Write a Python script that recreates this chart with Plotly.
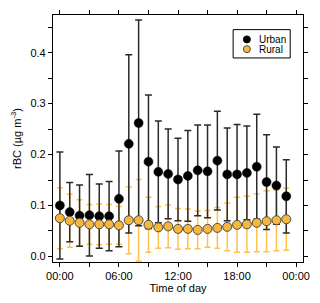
import plotly.graph_objects as go

hours = list(range(24))

urban = [0.100, 0.087, 0.080, 0.081, 0.079, 0.079, 0.113, 0.221, 0.262, 0.186,
         0.166, 0.162, 0.151, 0.158, 0.169, 0.167, 0.188, 0.161, 0.161, 0.164,
         0.176, 0.146, 0.139, 0.118]
urban_err = [0.105, 0.058, 0.060, 0.080, 0.063, 0.068, 0.094, 0.175, 0.202, 0.131,
             0.100, 0.088, 0.081, 0.089, 0.089, 0.091, 0.097, 0.091, 0.098, 0.092,
             0.103, 0.093, 0.076, 0.072]

rural = [0.075, 0.070, 0.066, 0.063, 0.063, 0.063, 0.061, 0.071, 0.071, 0.062,
         0.057, 0.059, 0.054, 0.054, 0.052, 0.054, 0.056, 0.058, 0.062, 0.063,
         0.066, 0.069, 0.071, 0.073]
rural_err = [0.060, 0.052, 0.045, 0.039, 0.040, 0.039, 0.037, 0.066, 0.080, 0.054,
             0.041, 0.042, 0.040, 0.039, 0.037, 0.036, 0.040, 0.047, 0.054, 0.055,
             0.057, 0.060, 0.060, 0.061]

x_tickvals = [0, 3, 6, 9, 12, 15, 18, 21, 24]
x_ticktext = ["00:00", "", "06:00", "", "12:00", "", "18:00", "", "00:00"]
y_tickvals = [0.0, 0.05, 0.1, 0.15, 0.2, 0.25, 0.3, 0.35, 0.4, 0.45]
y_ticktext = ["0.0", "", "0.1", "", "0.2", "", "0.3", "", "0.4", ""]

series_names = ["Urban", "Rural"]
URBAN_COLOR = "black"
RURAL_COLOR = "#F7B73A"

font_family = "Liberation Sans, Arial, Helvetica, sans-serif"

fig = go.Figure()
# error bars first (rural below urban), then markers (urban, then rural)
fig.add_trace(go.Scatter(
    x=hours, y=rural, mode="markers", showlegend=False, hoverinfo="skip",
    marker=dict(color="rgba(0,0,0,0)", size=1),
    error_y=dict(type="data", array=rural_err, symmetric=True,
                 color="#FFC04D", thickness=1.5, width=3),
))
fig.add_trace(go.Scatter(
    x=hours, y=urban, mode="markers", showlegend=False, hoverinfo="skip",
    marker=dict(color="rgba(0,0,0,0)", size=1),
    error_y=dict(type="data", array=urban_err, symmetric=True,
                 color="#2a2a2a", thickness=1.5, width=3.5),
))
fig.add_trace(go.Scatter(
    x=hours, y=urban, mode="markers", name=series_names[0], showlegend=False,
    marker=dict(color=URBAN_COLOR, size=9, line=dict(color="black", width=0.5)),
))
fig.add_trace(go.Scatter(
    x=hours, y=rural, mode="markers", name=series_names[1], showlegend=False,
    marker=dict(color=RURAL_COLOR, size=9, line=dict(color="#4a4a4a", width=1)),
))

# compact boxed legend (Igor-style), placed in plot-area (paper) coordinates
leg_x0, leg_x1, leg_y0, leg_y1 = 0.7205, 0.9488, 0.8261, 0.9407
leg_mark_x, leg_text_x = 0.7756, 0.8150
leg_rows_y = [0.9012, 0.8617]
leg_fill = [URBAN_COLOR, RURAL_COLOR]
leg_line = ["black", "#4a4a4a"]

shapes = [dict(type="rect", xref="paper", yref="paper",
               x0=leg_x0, x1=leg_x1, y0=leg_y0, y1=leg_y1,
               line=dict(color="black", width=1), fillcolor="white", layer="above")]
annotations = []
for name, yy, fc, lc in zip(series_names, leg_rows_y, leg_fill, leg_line):
    shapes.append(dict(type="circle", xref="paper", yref="paper",
                       xsizemode="pixel", ysizemode="pixel",
                       xanchor=leg_mark_x, yanchor=yy,
                       x0=-3.5, x1=3.5, y0=-3.5, y1=3.5,
                       fillcolor=fc, line=dict(color=lc, width=1), layer="above"))
    annotations.append(dict(xref="paper", yref="paper", x=leg_text_x, y=yy,
                            xanchor="left", yanchor="middle", text=name,
                            showarrow=False,
                            font=dict(family=font_family, size=10, color="black")))

axis_common = dict(
    showline=True, linecolor="black", linewidth=1.2, mirror="ticks",
    ticks="outside", ticklen=4, tickwidth=1, tickcolor="black",
    showgrid=False, zeroline=False,
    tickfont=dict(family=font_family, size=11, color="black"),
)

fig.update_layout(
    width=320, height=303,
    margin=dict(l=53, r=13, t=10, b=40),
    paper_bgcolor="white", plot_bgcolor="white",
    font=dict(family=font_family, size=11, color="black"),
    showlegend=False,
    shapes=shapes,
    annotations=annotations,
    xaxis=dict(
        range=[-0.7, 24.7], tickmode="array",
        tickvals=x_tickvals, ticktext=x_ticktext,
        title=dict(text="Time of day", standoff=3,
                   font=dict(family=font_family, size=11)),
        **axis_common,
    ),
    yaxis=dict(
        range=[-0.011, 0.474], tickmode="array",
        tickvals=y_tickvals, ticktext=y_ticktext,
        title=dict(text="rBC (µg m<sup>-3</sup>)", standoff=6,
                   font=dict(family=font_family, size=11)),
        **axis_common,
    ),
)

fig.write_html("out.html",
               config={"displayModeBar": False},
               post_script="document.body.style.margin='0';document.body.style.padding='0';")
